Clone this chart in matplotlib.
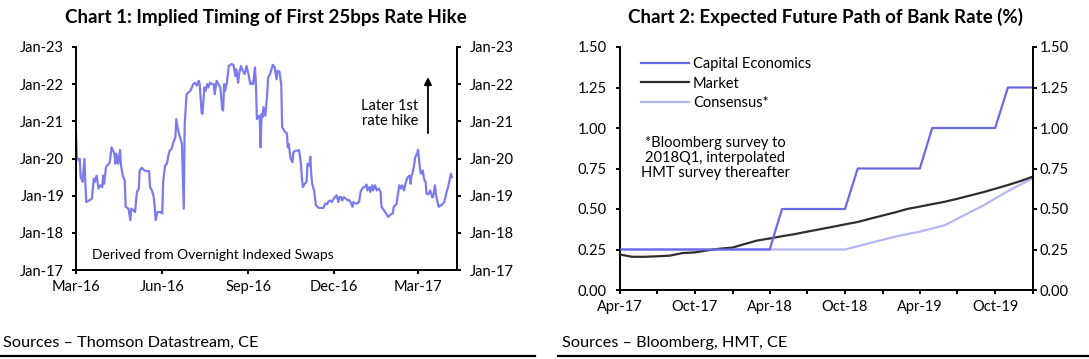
import numpy as np
import pandas as pd
import matplotlib
matplotlib.use('Agg')
import matplotlib.pyplot as plt
from matplotlib.lines import Line2D

plt.rcParams['font.family'] = ['Lato', 'DejaVu Sans']

# ---------------- Chart 1 data ----------------
ois_start = '2016-03-01'
ois_days = [0, 1, 3, 4, 5, 7, 9, 10, 11, 14, 17, 19, 20, 22, 24, 26, 28, 29, 30, 32,
            35, 36, 38, 41, 42, 43, 45, 47, 48, 50, 52, 53, 56, 58, 59, 61, 63, 65, 67, 68,
            70, 73, 75, 78, 79, 81, 83, 84, 85, 87, 90, 92, 93, 95, 97, 99, 100, 102, 104, 106,
            107, 109, 111, 113, 115, 116, 118, 120, 122, 125, 127, 129, 131, 132, 134, 135, 136, 137, 138, 140,
            141, 143, 145, 147, 148, 150, 152, 154, 156, 157, 158, 159, 161, 163, 166, 168, 170, 171, 173, 174,
            176, 178, 180, 182, 184, 186, 188, 189, 191, 192, 193, 195, 196, 197, 198, 199, 200, 202, 204, 205,
            207, 210, 212, 214, 215, 217, 219, 220, 223, 225, 226, 227, 229, 231, 232, 234, 237, 238, 240, 241,
            242, 244, 246, 247, 249, 250, 251, 252, 254, 256, 259, 264, 266, 268, 269, 271, 273, 275, 277, 278,
            280, 281, 283, 284, 286, 288, 290, 291, 293, 295, 296, 298, 300, 302, 304, 306, 309, 310, 311, 313,
            314, 316, 317, 319, 321, 323, 325, 326, 328, 329, 331, 333, 335, 336, 338, 339, 342, 343, 345, 347,
            348, 350, 352, 354, 356, 357, 358, 359, 361, 362, 364, 365, 366, 367, 368, 370, 371, 372, 373, 374,
            376, 378, 380, 381, 383, 384, 385, 387, 389, 390, 393, 395, 397, 399, 400, 401]
ois_implied = [2020.66, 2020.04, 2019.95, 2019.99, 2019.50, 2019.37, 2019.99, 2019.32, 2018.83, 2018.87,
               2018.92, 2019.46, 2019.37, 2019.54, 2019.19, 2019.28, 2019.23, 2019.54, 2019.32, 2019.77,
               2019.86, 2019.90, 2020.30, 2020.13, 2019.86, 2020.13, 2019.86, 2020.23, 2019.81, 2019.54,
               2019.41, 2018.70, 2018.65, 2018.34, 2018.65, 2018.61, 2018.56, 2019.10, 2019.19, 2019.68,
               2019.75, 2019.68, 2019.66, 2019.66, 2019.23, 2019.14, 2018.96, 2018.70, 2018.34, 2018.56,
               2018.56, 2018.52, 2019.37, 2019.81, 2019.86, 2020.13, 2020.21, 2020.26, 2020.44, 2020.57,
               2021.06, 2020.75, 2020.57, 2020.39, 2018.65, 2020.93, 2021.73, 2021.78, 2021.82, 2022.00,
               2022.04, 2021.96, 2022.09, 2022.00, 2021.24, 2021.20, 2021.55, 2021.91, 2021.82, 2022.00,
               2021.91, 2022.04, 2022.00, 2022.00, 2021.73, 2022.09, 2022.00, 2021.91, 2021.33, 2021.29,
               2022.00, 2021.82, 2022.04, 2022.49, 2022.54, 2022.52, 2022.22, 2022.40, 2022.04, 2022.27,
               2022.49, 2022.36, 2022.27, 2022.49, 2022.27, 2022.00, 2022.04, 2022.00, 2022.45, 2022.00,
               2021.06, 2021.15, 2021.11, 2020.30, 2021.20, 2021.11, 2021.38, 2021.15, 2021.73, 2022.18,
               2022.27, 2022.52, 2022.45, 2022.13, 2022.36, 2022.34, 2022.00, 2020.84, 2020.72, 2020.68,
               2020.30, 2020.39, 2019.99, 2019.90, 2020.17, 2020.21, 2020.21, 2020.23, 2019.86, 2019.50,
               2019.23, 2019.32, 2019.37, 2019.86, 2019.81, 2020.05, 2019.59, 2019.32, 2019.14, 2018.74,
               2018.67, 2018.67, 2018.79, 2018.77, 2018.83, 2018.87, 2018.83, 2018.92, 2018.98, 2019.01,
               2018.83, 2018.96, 2018.96, 2018.87, 2018.96, 2018.92, 2018.87, 2018.89, 2018.83, 2018.70,
               2018.83, 2018.79, 2018.79, 2018.83, 2019.14, 2019.21, 2019.25, 2019.30, 2019.14, 2019.23,
               2019.10, 2019.28, 2019.14, 2019.28, 2019.14, 2019.19, 2019.10, 2018.70, 2018.63, 2018.59,
               2018.52, 2018.43, 2018.47, 2018.50, 2018.52, 2018.70, 2018.77, 2018.96, 2019.28, 2019.19,
               2019.28, 2019.14, 2019.37, 2019.50, 2019.54, 2019.32, 2019.54, 2019.59, 2019.86, 2020.04,
               2020.13, 2020.23, 2019.99, 2019.72, 2019.59, 2019.68, 2019.50, 2019.41, 2019.37, 2019.05,
               2019.04, 2019.14, 2018.96, 2018.96, 2019.28, 2019.05, 2018.92, 2018.70, 2018.74, 2018.74,
               2018.83, 2019.05, 2019.23, 2019.46, 2019.59, 2019.50]
c1_xlim = ['2016-03-01', '2017-04-11']
c1_xticks = ['2016-03-01', '2016-06-01', '2016-09-01', '2016-12-01', '2017-03-01']
c1_xlabels = ['Mar-16', 'Jun-16', 'Sep-16', 'Dec-16', 'Mar-17']
c1_yticks = [2017, 2018, 2019, 2020, 2021, 2022, 2023]
c1_ylabels = ['Jan-17', 'Jan-18', 'Jan-19', 'Jan-20', 'Jan-21', 'Jan-22', 'Jan-23']

# ---------------- Chart 2 data ----------------
c2_start = '2017-04-01'
capital_economics = [0.25, 0.25, 0.25, 0.25, 0.25, 0.25, 0.25, 0.25, 0.25, 0.25, 0.25, 0.25, 0.25,
                     0.50, 0.50, 0.50, 0.50, 0.50, 0.50,
                     0.75, 0.75, 0.75, 0.75, 0.75, 0.75,
                     1.00, 1.00, 1.00, 1.00, 1.00, 1.00,
                     1.25, 1.25, 1.25]
market = [0.22, 0.205, 0.205, 0.208, 0.212, 0.228, 0.232, 0.245, 0.255, 0.262, 0.285, 0.305,
          0.318, 0.332, 0.345, 0.36, 0.375, 0.39, 0.405, 0.42, 0.44, 0.46, 0.48, 0.50,
          0.515, 0.53, 0.545, 0.563, 0.583, 0.603, 0.625, 0.648, 0.672, 0.70]
consensus = [0.25, 0.25, 0.25, 0.25, 0.25, 0.25, 0.25, 0.25, 0.25, 0.25, 0.25, 0.25, 0.25,
             0.25, 0.25, 0.25, 0.25, 0.25, 0.25, 0.27, 0.29, 0.31, 0.33, 0.345, 0.36,
             0.38, 0.40, 0.44, 0.48, 0.52, 0.565, 0.61, 0.65, 0.69]
c2_xlim = ['2017-04-01', '2020-01-01']
c2_xticks = ['2017-04-01', '2017-07-01', '2017-10-01', '2018-01-01', '2018-04-01', '2018-07-01',
             '2018-10-01', '2019-01-01', '2019-04-01', '2019-07-01', '2019-10-01', '2020-01-01']
c2_xlabels = ['Apr-17', '', 'Oct-17', '', 'Apr-18', '', 'Oct-18', '', 'Apr-19', '', 'Oct-19', '']
c2_yticks = [0.0, 0.25, 0.5, 0.75, 1.0, 1.25, 1.5]
c2_ylabels = ['0.00', '0.25', '0.50', '0.75', '1.00', '1.25', '1.50']

# ---------------- Styles ----------------
W, H = 1089, 359
FS = 10.5
LINE_C1 = '#7b7bee'
CE_C = '#6a6ae6'
MKT_C = '#2e2e2e'
CONS_C = '#b6b6f4'
SPINE_W = 1.4

fig = plt.figure(figsize=(W / 100, H / 100), dpi=100)


def style_axes(ax, axr, pad_l, pad_r):
    for a in (ax, axr):
        a.spines['top'].set_visible(False)
        for s in ('left', 'right', 'bottom'):
            a.spines[s].set_linewidth(SPINE_W)
            a.spines[s].set_color('black')
    ax.spines['right'].set_visible(False)
    axr.spines['left'].set_visible(False)
    axr.spines['bottom'].set_visible(False)
    ax.tick_params(axis='both', direction='out', length=3, width=SPINE_W, labelsize=FS, colors='black')
    ax.tick_params(axis='y', pad=pad_l)
    ax.tick_params(axis='x', pad=4)
    axr.tick_params(axis='y', direction='out', length=3, width=SPINE_W, labelsize=FS, pad=pad_r)


# ---------------- Chart 1 ----------------
ax1 = fig.add_axes([76 / W, 1 - 270 / H, 380.5 / W, 223 / H])
x1 = np.datetime64(ois_start) + np.array(ois_days).astype('timedelta64[D]')
ax1.plot(x1, ois_implied, color=LINE_C1, lw=1.6, solid_joinstyle='round')
ax1.set_xlim(np.datetime64(c1_xlim[0]), np.datetime64(c1_xlim[1]))
ax1.set_ylim(c1_yticks[0], c1_yticks[-1])
ax1.set_xticks([np.datetime64(d) for d in c1_xticks])
ax1.set_xticklabels(c1_xlabels)
ax1.set_yticks(c1_yticks)
ax1.set_yticklabels(c1_ylabels)
ax1r = ax1.twinx()
ax1r.set_ylim(ax1.get_ylim())
ax1r.set_yticks(c1_yticks)
ax1r.set_yticklabels(c1_ylabels)
style_axes(ax1, ax1r, 5.4, 6.5)

ax1.text(0.042, 0.067, 'Derived from Overnight Indexed Swaps', transform=ax1.transAxes,
         ha='left', va='center', fontsize=10)
ax1.text(0.899, 0.702, 'Later 1st\nrate hike', transform=ax1.transAxes,
         ha='right', va='center', fontsize=FS, linespacing=1.15)
ax1.annotate('', xy=(0.925, 0.865), xytext=(0.925, 0.614), xycoords='axes fraction',
             textcoords='axes fraction',
             arrowprops=dict(arrowstyle='-|>', color='black', lw=1.3, mutation_scale=11,
                             shrinkA=0, shrinkB=0))

fig.text(266 / W, 1 - 17 / H, 'Chart 1: Implied Timing of First 25bps Rate Hike',
         ha='center', va='center', fontsize=13.5, fontweight='bold')

# ---------------- Chart 2 ----------------
ax2 = fig.add_axes([619.5 / W, 1 - 290 / H, 413.5 / W, 243 / H])
x2 = pd.date_range(c2_start, periods=len(market), freq='MS')
ax2.plot(x2, consensus, color=CONS_C, lw=1.6, label='Consensus*', zorder=2)
ax2.plot(x2, market, color=MKT_C, lw=1.6, label='Market', zorder=3)
ax2.plot(x2, capital_economics, color=CE_C, lw=1.6, label='Capital Economics', zorder=4)
ax2.set_xlim(pd.Timestamp(c2_xlim[0]), pd.Timestamp(c2_xlim[1]))
ax2.set_ylim(c2_yticks[0], c2_yticks[-1])
ax2.set_xticks([pd.Timestamp(d) for d in c2_xticks])
ax2.set_xticklabels(c2_xlabels)
ax2.set_yticks(c2_yticks)
ax2.set_yticklabels(c2_ylabels)
ax2r = ax2.twinx()
ax2r.set_ylim(ax2.get_ylim())
ax2r.set_yticks(c2_yticks)
ax2r.set_yticklabels(c2_ylabels)
style_axes(ax2, ax2r, 6.0, 2.0)

handles, labels = ax2.get_legend_handles_labels()
order = [2, 1, 0]
ax2.legend([handles[i] for i in order], [labels[i] for i in order],
           loc='upper left', bbox_to_anchor=(0.051, 0.96), frameon=False, fontsize=FS,
           handlelength=3.3, handletextpad=0.3, labelspacing=0.4, borderpad=0, borderaxespad=0)

ax2.text(0.231, 0.543, '*Bloomberg survey to\n2018Q1, interpolated\nHMT survey thereafter',
         transform=ax2.transAxes, ha='center', va='center', fontsize=FS, linespacing=1.1)

fig.text(826 / W, 1 - 17 / H, 'Chart 2: Expected Future Path of Bank Rate (%)',
         ha='center', va='center', fontsize=13.5, fontweight='bold')

# ---------------- Footers ----------------
fig.text(3 / W, 1 - 343 / H, 'Sources \u2013 Thomson Datastream, CE', ha='left', va='center', fontsize=11.7)
fig.text(562 / W, 1 - 343 / H, 'Sources \u2013 Bloomberg, HMT, CE', ha='left', va='center', fontsize=11.7)
fig.add_artist(Line2D([0, 535 / W], [1 - 356 / H, 1 - 356 / H], color='black', lw=1.6))
fig.add_artist(Line2D([558 / W, 1], [1 - 356 / H, 1 - 356 / H], color='black', lw=1.6))

fig.savefig('out.png', dpi=100)
